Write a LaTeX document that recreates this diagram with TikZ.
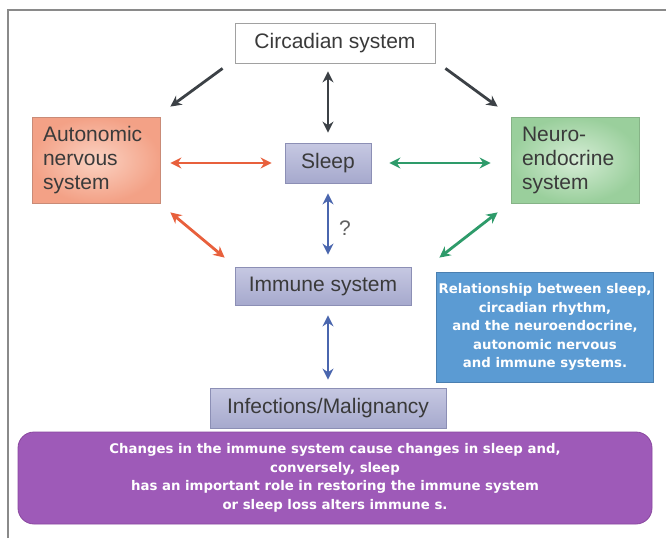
\documentclass[tikz,border=0pt]{standalone}
\usepackage{fontspec}
\setmainfont{Liberation Sans}
\newfontfamily\wfont{DejaVu Sans}
\usetikzlibrary{arrows.meta,calc}
\definecolor{txt}{HTML}{3A3A3A}
\definecolor{darkarr}{HTML}{3C4146}
\definecolor{orarr}{HTML}{E8603C}
\definecolor{grarr}{HTML}{2E9B6A}
\definecolor{blarr}{HTML}{4A66AE}
\definecolor{ansin}{HTML}{FBD2C2}
\definecolor{ansout}{HTML}{F3A186}
\definecolor{ansbd}{HTML}{C98B77}
\definecolor{neuin}{HTML}{D6EDD6}
\definecolor{neuout}{HTML}{9ACF9C}
\definecolor{neubd}{HTML}{86B387}
\definecolor{lavtop}{HTML}{C6C8E2}
\definecolor{lavbot}{HTML}{A6A9CD}
\definecolor{lavbd}{HTML}{8C8FB5}
\definecolor{relfill}{HTML}{5B9BD3}
\definecolor{relbd}{HTML}{4A7FB0}
\definecolor{purp}{HTML}{9E5AB8}
\definecolor{purpbd}{HTML}{8A489F}
\definecolor{frame}{HTML}{8A8A8A}
\begin{document}
\begin{tikzpicture}[x=1pt,y=-1pt,
  lbl/.style={text=txt,font=\fontsize{21}{24}\selectfont,inner sep=0pt},
  lavbox/.style={lbl,draw=lavbd,line width=0.8pt,top color=lavtop,bottom color=lavbot},
  colbox/.style={lbl,line width=0.8pt,minimum width=128pt,minimum height=86pt,text width=106pt,align=left,inner xsep=11pt},
  wtext/.style={text=white,font=\wfont\bfseries\fontsize{13.3}{18.5}\selectfont,align=center},
  arr/.style={line width=2.8pt,{Stealth[length=11pt,width=11pt]}-{Stealth[length=11pt,width=11pt]}},
  arrone/.style={line width=2.8pt,-{Stealth[length=11pt,width=11pt]}}]
\useasboundingbox (0,0) rectangle (666,538);
\fill[white] (0,0) rectangle (666,538);
\draw[frame,line width=1.2pt] (8,538) -- (8,10) -- (666,10);

\node[lbl,draw=frame!80,line width=0.8pt,fill=white,minimum width=200pt,minimum height=40pt] (circ) at (335,43) {Circadian system};
\node[colbox,draw=ansbd,inner color=ansin,outer color=ansout] (ans) at (96,160) {Autonomic\\nervous\\system};
\node[colbox,draw=neubd,inner color=neuin,outer color=neuout] (neu) at (575,160) {Neuro-\\endocrine\\system};
\node[lavbox,minimum width=86pt,minimum height=40pt] (sleep) at (328,163) {Sleep};
\node[lavbox,minimum width=176pt,minimum height=38pt] (imm) at (323,286) {Immune system};
\node[lavbox,minimum width=236pt,minimum height=40pt] (inf) at (328,408) {Infections/Malignancy};
\node[wtext,fill=relfill,draw=relbd,line width=0.8pt,minimum width=217pt,minimum height=110pt,inner sep=0pt] (rel) at (545,327)
  {Relationship between sleep,\\circadian rhythm,\\and the neuroendocrine,\\autonomic nervous\\and immune systems.};
\node[wtext,fill=purp,draw=purpbd,line width=0.8pt,rounded corners=16pt,minimum width=634pt,minimum height=92pt,inner sep=0pt] (pur) at (335,478)
  {Changes in the immune system cause changes in sleep and,\\conversely, sleep\\has an important role in restoring the immune system\\or sleep loss alters immune s.};

\draw[arrone,darkarr] ([shift={(-12,5)}]circ.south west) -- ([shift={(10,-10)}]ans.north east);
\draw[arrone,darkarr] ([shift={(10,5)}]circ.south east) -- ([shift={(-13,-10)}]neu.north west);
\draw[arr,darkarr] ([yshift=-8pt]circ.south -| sleep.north) -- ([yshift=10pt]sleep.north);
\draw[arr,orarr] ([xshift=10pt]sleep.west -| ans.east) -- ([xshift=-13pt]sleep.west);
\draw[arr,grarr] ([xshift=18pt]sleep.east) -- ([xshift=-20pt]sleep.east -| neu.west);
\draw[arr,blarr] ([yshift=-10pt]sleep.south) -- ([yshift=12pt]imm.north -| sleep.south);
\node[lbl,text=txt!80] (q) at (345,228) {?};
\draw[arr,orarr] ([shift={(10,9)}]ans.south east) -- ([shift={(-10,-9)}]imm.north west);
\draw[arr,grarr] ([shift={(-13,9)}]neu.south west) -- ([shift={(28,-9)}]imm.north east);
\draw[arr,blarr] ([yshift=-10pt]imm.south -| sleep.south) -- ([yshift=8pt]inf.north -| sleep.south);
\end{tikzpicture}
\end{document}
